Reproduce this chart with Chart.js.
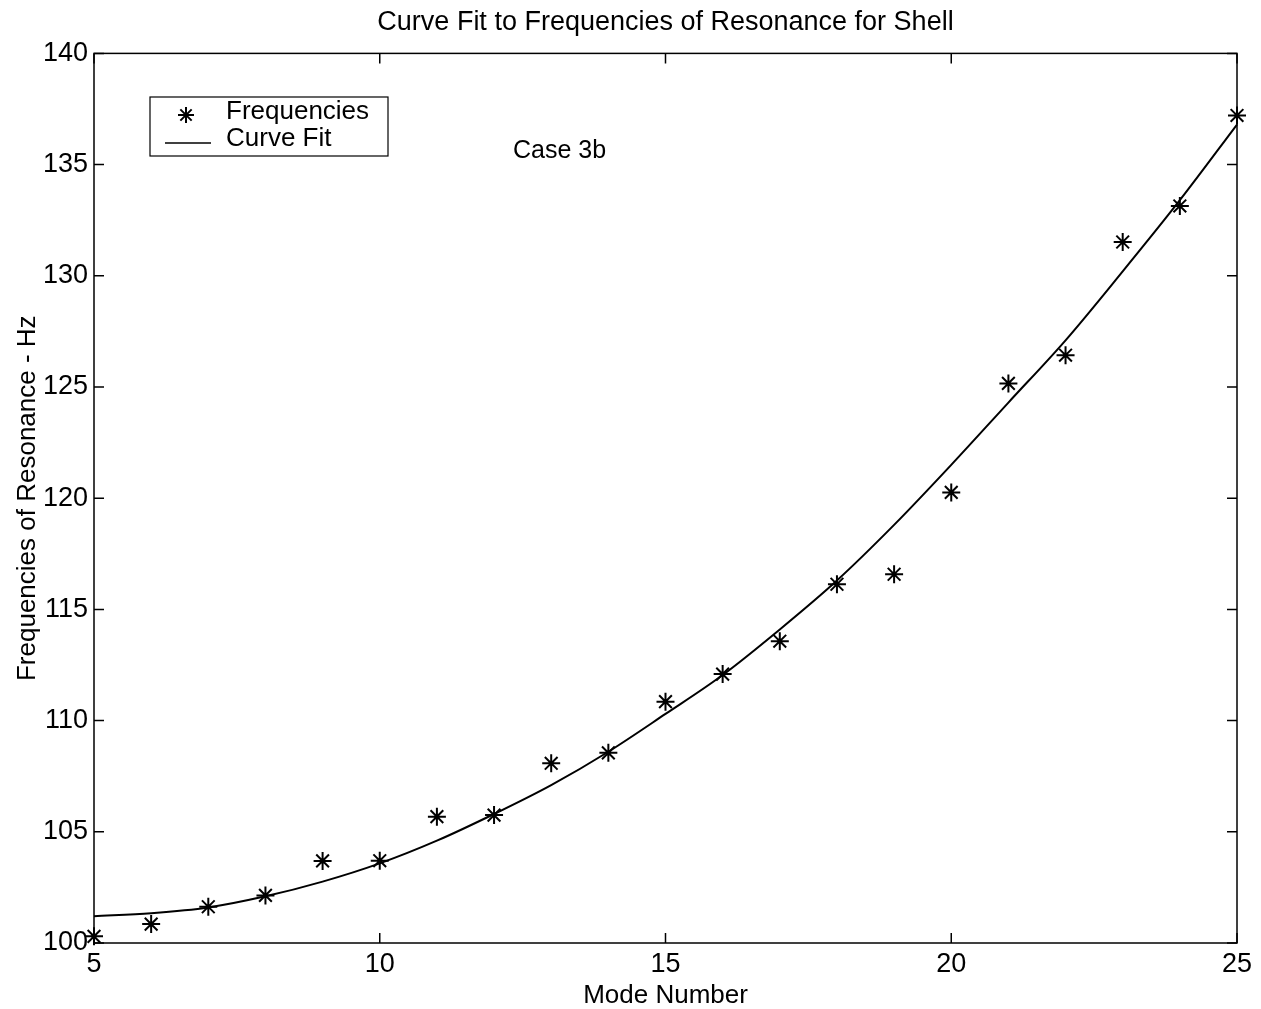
<!DOCTYPE html>
<html>
<head>
<meta charset="utf-8">
<script src="https://cdn.jsdelivr.net/npm/chart.js@4"></script>
<style>
  html, body { margin: 0; padding: 0; background: #fff; }
  #wrap { width: 1261px; height: 1009px; }
</style>
</head>
<body>
<div id="wrap"><canvas id="chart-1" width="1261" height="1009"></canvas></div>
<script>
// data
var modeNumbers = [5, 6, 7, 8, 9, 10, 11, 12, 13, 14, 15, 16, 17, 18, 19, 20, 21, 22, 23, 24, 25];
var frequencies = [100.3, 100.85, 101.63, 102.14, 103.69, 103.7, 105.68, 105.75, 108.08, 108.55,
  110.85, 112.09, 113.57, 116.13, 116.58, 120.26, 125.16, 126.43, 131.52, 133.14, 137.21];
var curveFit = [101.2, 101.34, 101.6, 102.1, 102.76, 103.58, 104.6, 105.8, 107.1, 108.6,
  110.3, 112.05, 114.1, 116.3, 118.8, 121.5, 124.3, 127.1, 130.2, 133.4, 136.8];
var xTicks = [5, 10, 15, 20, 25];
var yTicks = [100, 105, 110, 115, 120, 125, 130, 135, 140];

var fontFamily = "'Liberation Sans', Arial, sans-serif";

function toPoints(xs, ys) {
  return xs.map(function (x, i) {
    return { x: x, y: ys[i] };
  });
}

// matlab style box, inward ticks, legend and the note
var matlabBox = {
  id: "matlabBox",
  afterDraw: function (chart) {
    var ctx = chart.ctx;
    var a = chart.chartArea;
    var xs = chart.scales.x;
    var ys = chart.scales.y;
    ctx.save();
    ctx.strokeStyle = "#000";
    ctx.lineWidth = 1.5;
    ctx.strokeRect(a.left, a.top, a.right - a.left, a.bottom - a.top);

    var t = 10;
    ctx.beginPath();
    xTicks.forEach(function (v) {
      var px = xs.getPixelForValue(v);
      ctx.moveTo(px, a.bottom);
      ctx.lineTo(px, a.bottom - t);
      ctx.moveTo(px, a.top);
      ctx.lineTo(px, a.top + t);
    });
    yTicks.forEach(function (v) {
      var py = ys.getPixelForValue(v);
      ctx.moveTo(a.left, py);
      ctx.lineTo(a.left + t, py);
      ctx.moveTo(a.right, py);
      ctx.lineTo(a.right - t, py);
    });
    ctx.stroke();

    // legend
    ctx.lineWidth = 1.2;
    ctx.strokeRect(150, 97, 238, 59);
    ctx.fillStyle = "#000";
    ctx.font = "26px " + fontFamily;
    ctx.textBaseline = "middle";
    ctx.textAlign = "left";
    ctx.fillText("Frequencies", 226, 112);
    ctx.fillText("Curve Fit", 226, 139);
    ctx.lineWidth = 2;
    var cx = 186, cy = 115, r = 8;
    ctx.beginPath();
    ctx.moveTo(cx - r, cy); ctx.lineTo(cx + r, cy);
    ctx.moveTo(cx, cy - r); ctx.lineTo(cx, cy + r);
    var d = r * 0.7071;
    ctx.moveTo(cx - d, cy - d); ctx.lineTo(cx + d, cy + d);
    ctx.moveTo(cx - d, cy + d); ctx.lineTo(cx + d, cy - d);
    ctx.stroke();
    ctx.beginPath();
    ctx.lineWidth = 1.5;
    ctx.moveTo(165, 143);
    ctx.lineTo(211, 143);
    ctx.stroke();

    ctx.font = "25px " + fontFamily;
    ctx.fillText("Case 3b", 513, 151);
    ctx.restore();
  }
};

var ctx = document.getElementById("chart-1").getContext("2d");
var myChart = new Chart(ctx, {
  type: "scatter",
  data: {
    datasets: [
      {
        label: "Frequencies",
        data: toPoints(modeNumbers, frequencies),
        pointStyle: "star",
        pointRadius: 9,
        pointBorderWidth: 2,
        borderColor: "#000",
        backgroundColor: "#000",
        showLine: false,
        clip: false,
      },
      {
        label: "Curve Fit",
        data: toPoints(modeNumbers, curveFit),
        showLine: true,
        pointRadius: 0,
        borderColor: "#000",
        borderWidth: 2,
        cubicInterpolationMode: "monotone",
        clip: false,
      },
    ],
  },
  options: {
    responsive: false,
    animation: false,
    layout: { padding: { left: 0, right: 24, top: 0, bottom: 0 } },
    plugins: {
      legend: { display: false },
      tooltip: { enabled: false },
      title: {
        display: true,
        fullSize: false,
        text: "Curve Fit to Frequencies of Resonance for Shell",
        color: "#000",
        font: { family: fontFamily, size: 27, weight: "normal", lineHeight: 1.2 },
        padding: { top: 6, bottom: 15 },
      },
    },
    scales: {
      x: {
        type: "linear",
        min: 5,
        max: 25,
        afterFit: function (scale) { scale.height = 66; },
        afterBuildTicks: function (scale) {
          scale.ticks = xTicks.map(function (v) { return { value: v }; });
        },
        grid: { display: false, drawTicks: false },
        border: { display: false },
        ticks: { color: "#000", padding: 5, font: { family: fontFamily, size: 27 } },
        title: {
          display: true,
          text: "Mode Number",
          color: "#000",
          padding: { top: 0, bottom: 0 },
          font: { family: fontFamily, size: 26, lineHeight: 1.0 },
        },
      },
      y: {
        min: 100,
        max: 140,
        afterFit: function (scale) { scale.width = 94; },
        afterBuildTicks: function (scale) {
          scale.ticks = yTicks.map(function (v) { return { value: v }; });
        },
        grid: { display: false, drawTicks: false },
        border: { display: false },
        ticks: { color: "#000", padding: 6, font: { family: fontFamily, size: 27 } },
        title: {
          display: true,
          text: "Frequencies of Resonance - Hz",
          color: "#000",
          padding: { top: 12, bottom: 4 },
          font: { family: fontFamily, size: 26 },
        },
      },
    },
  },
  plugins: [matlabBox],
});
</script>
</body>
</html>
